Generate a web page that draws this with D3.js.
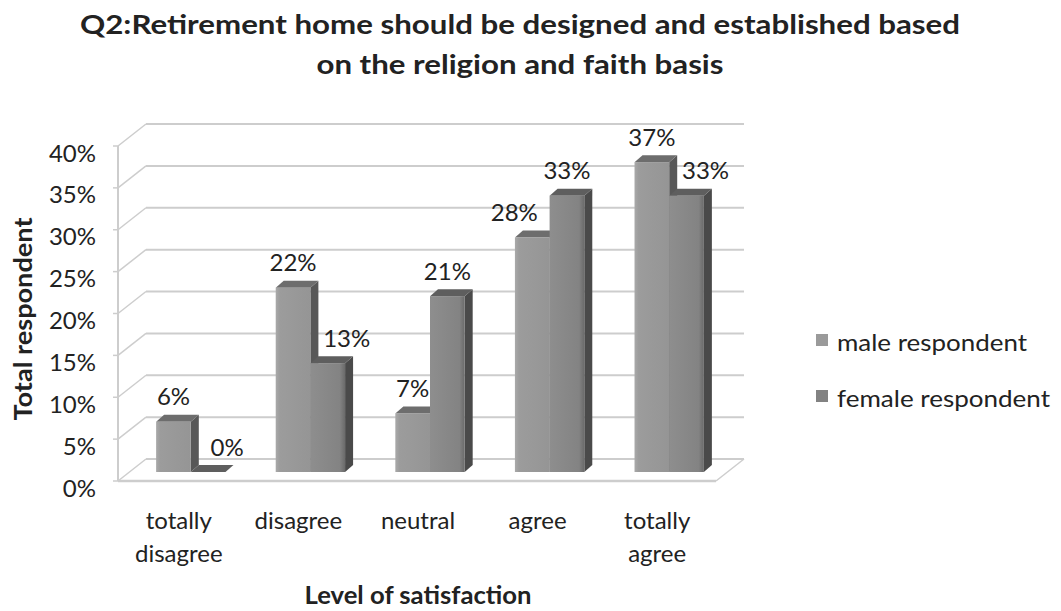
<!DOCTYPE html>
<html>
<head>
<meta charset="utf-8">
<script src="https://cdn.jsdelivr.net/npm/d3@7"></script>
<style>
  html, body { margin: 0; padding: 0; background: #fff; }
  svg { display: block; font-family: Lato, "Open Sans", sans-serif; }
</style>
</head>
<body>
<svg id="chart" width="1061" height="611"></svg>
<script>
// ---- data ----
const categories = ["totally disagree", "disagree", "neutral", "agree", "totally agree"];
const categoryLines = [["totally", "disagree"], ["disagree"], ["neutral"], ["agree"], ["totally", "agree"]];
const seriesNames = ["male respondent", "female respondent"];
const maleValues = [0.06, 0.22, 0.07, 0.28, 0.37];
const femaleValues = [0.00, 0.13, 0.21, 0.33, 0.33];
const yTicks = [0, 0.05, 0.10, 0.15, 0.20, 0.25, 0.30, 0.35, 0.40];
const yTickLabels = ["0%", "5%", "10%", "15%", "20%", "25%", "30%", "35%", "40%"];
const titleLines = ["Q2:Retirement home should be designed and established based", "on the religion and faith basis"];
const yAxisTitle = "Total respondent";
const xAxisTitle = "Level of satisfaction";

// ---- layout ----
const svg = d3.select("#chart");
const x0 = 118, y0 = 481, plotW = 598;
const depth = { dx: 28, dy: -22 };     // wall depth
const barOff = { dx: 13, dy: -9 };     // bar plane offset inside the depth
const box = { dx: 8, dy: -7 };          // bar thickness
const gridColor = "#cdcdcd";
const fs = 24;

const y = d3.scaleLinear().domain([0, 0.40]).range([0, 335]); // height in px
const x = d3.scaleBand().domain(categories).range([x0, x0 + plotW]).paddingInner(0.42).paddingOuter(0.21);
const xs = d3.scaleBand().domain(seriesNames).range([0, x.bandwidth()]);

const colors = {
  "male respondent": { front: "url(#gMale)", top: "#6d6d6d", side: "#585858", legend: "#9a9a9a" },
  "female respondent": { front: "url(#gFemale)", top: "#5e5e5e", side: "#4a4a4a", legend: "#828282" }
};

const defs = svg.append("defs");
const gm = defs.append("linearGradient").attr("id", "gMale").attr("x1", 0).attr("x2", 1).attr("y1", 0).attr("y2", 0);
gm.append("stop").attr("offset", "0").attr("stop-color", "#a9a9a9");
gm.append("stop").attr("offset", "0.12").attr("stop-color", "#9c9c9c");
gm.append("stop").attr("offset", "1").attr("stop-color", "#959595");
const gf = defs.append("linearGradient").attr("id", "gFemale").attr("x1", 0).attr("x2", 1).attr("y1", 0).attr("y2", 0);
gf.append("stop").attr("offset", "0").attr("stop-color", "#8e8e8e");
gf.append("stop").attr("offset", "0.85").attr("stop-color", "#838383");
gf.append("stop").attr("offset", "1").attr("stop-color", "#6a6a6a");

// ---- walls / gridlines ----
const grid = svg.append("g");
yTicks.forEach(t => {
  const h = y(t);
  grid.append("line")
    .attr("x1", x0 + depth.dx).attr("x2", x0 + depth.dx + plotW)
    .attr("y1", y0 + depth.dy - h).attr("y2", y0 + depth.dy - h)
    .attr("stroke", gridColor).attr("stroke-width", 2);
  grid.append("line")
    .attr("x1", x0).attr("y1", y0 - h)
    .attr("x2", x0 + depth.dx).attr("y2", y0 + depth.dy - h)
    .attr("stroke", gridColor).attr("stroke-width", 1.5);
  grid.append("line")
    .attr("x1", x0 - 5).attr("x2", x0).attr("y1", y0 - h).attr("y2", y0 - h)
    .attr("stroke", gridColor).attr("stroke-width", 1.5);
});
grid.append("line").attr("x1", x0).attr("x2", x0).attr("y1", y0 - y(0.40)).attr("y2", y0)
  .attr("stroke", gridColor).attr("stroke-width", 2);
grid.append("line").attr("x1", x0).attr("x2", x0 + plotW).attr("y1", y0).attr("y2", y0)
  .attr("stroke", gridColor).attr("stroke-width", 2.5);
grid.append("line").attr("x1", x0 + plotW).attr("y1", y0).attr("x2", x0 + plotW + depth.dx).attr("y2", y0 + depth.dy)
  .attr("stroke", gridColor).attr("stroke-width", 1.5);

// y tick labels
svg.append("g").selectAll("text").data(yTicks).join("text")
  .attr("x", 96).attr("y", d => y0 - y(d) + 6)
  .attr("text-anchor", "end").attr("dominant-baseline", "central")
  .attr("font-size", fs).attr("fill", "#222")
  .text((d, i) => yTickLabels[i]);

// ---- bars ----
const bars = svg.append("g");
const labelInfo = [];
categories.forEach((c, ci) => {
  const vals = [maleValues[ci], femaleValues[ci]];
  seriesNames.forEach((s, si) => {
    const v = vals[si];
    const bx = x(c) + xs(s) + barOff.dx;
    const bw = xs.bandwidth();
    const yb = y0 + barOff.dy;
    const yt = yb - y(v);
    const col = colors[s];
    bars.append("polygon")
      .attr("points", [[bx + bw, yt], [bx + bw + box.dx, yt + box.dy], [bx + bw + box.dx, yb + box.dy], [bx + bw, yb]].map(p => p.join(",")).join(" "))
      .attr("fill", col.side);
    bars.append("polygon")
      .attr("points", [[bx, yt], [bx + box.dx, yt + box.dy], [bx + bw + box.dx, yt + box.dy], [bx + bw, yt]].map(p => p.join(",")).join(" "))
      .attr("fill", col.top);
    bars.append("rect")
      .attr("x", bx).attr("y", yt).attr("width", bw).attr("height", Math.max(0, yb - yt))
      .attr("fill", col.front);
    labelInfo.push({ ci, si, v, cx: bx + bw / 2, yt, bx, bw, other: vals[1 - si] });
  });
});

// ---- value labels ----
const labels = svg.append("g");
labelInfo.forEach(d => {
  const t = labels.append("text")
    .attr("x", d.cx).attr("y", d.yt - 26)
    .attr("text-anchor", "middle").attr("dominant-baseline", "central")
    .attr("font-size", fs).attr("fill", "#222")
    .text(d3.format(".0%")(d.v));
  const w = t.node().getComputedTextLength();
  if (d.si === 1 && d.other > d.v) {
    const edge = d.bx + box.dx;
    if (d.cx - w / 2 < edge) t.attr("x", d.cx + 19);
  } else if (d.si === 0 && d.other > d.v) {
    const edge = d.bx + d.bw;
    if (d.cx + w / 2 > edge + 4) t.attr("x", d.cx - 18);
  }
});

// ---- category labels ----
const xl = svg.append("g");
categories.forEach((c, ci) => {
  const cx = x(c) + x.bandwidth() / 2;
  categoryLines[ci].forEach((line, li) => {
    xl.append("text").attr("x", cx + 1).attr("y", 519 + li * 33)
      .attr("text-anchor", "middle").attr("dominant-baseline", "central")
      .attr("font-size", fs).attr("fill", "#222").text(line);
  });
});

// ---- axis titles ----
svg.append("text").attr("x", 418).attr("y", 594)
  .attr("text-anchor", "middle").attr("dominant-baseline", "central")
  .attr("font-size", 24).attr("font-weight", "bold").attr("fill", "#222")
  .attr("textLength", 227).attr("lengthAdjust", "spacingAndGlyphs").text(xAxisTitle);
svg.append("text").attr("transform", "translate(22,319) rotate(-90)")
  .attr("text-anchor", "middle").attr("dominant-baseline", "central")
  .attr("font-size", 24).attr("font-weight", "bold").attr("fill", "#222")
  .attr("textLength", 203).attr("lengthAdjust", "spacingAndGlyphs").text(yAxisTitle);

// ---- title ----
const titleW = [880, 407];
titleLines.forEach((line, i) => {
  svg.append("text").attr("x", 520).attr("y", 23 + i * 40)
    .attr("text-anchor", "middle").attr("dominant-baseline", "central")
    .attr("font-size", 27).attr("font-weight", "bold").attr("fill", "#222")
    .attr("textLength", titleW[i]).attr("lengthAdjust", "spacingAndGlyphs")
    .text(line);
});

// ---- legend ----
const lg = svg.append("g");
const legendW = [190, 213];
seriesNames.forEach((s, i) => {
  const ly = 340 + i * 56;
  lg.append("rect").attr("x", 816).attr("y", ly - 6).attr("width", 12).attr("height", 12).attr("fill", colors[s].legend);
  lg.append("text").attr("x", 837).attr("y", ly + 1).attr("dominant-baseline", "central")
    .attr("font-size", fs).attr("fill", "#222")
    .attr("textLength", legendW[i]).attr("lengthAdjust", "spacingAndGlyphs").text(s);
});
</script>
</body>
</html>
